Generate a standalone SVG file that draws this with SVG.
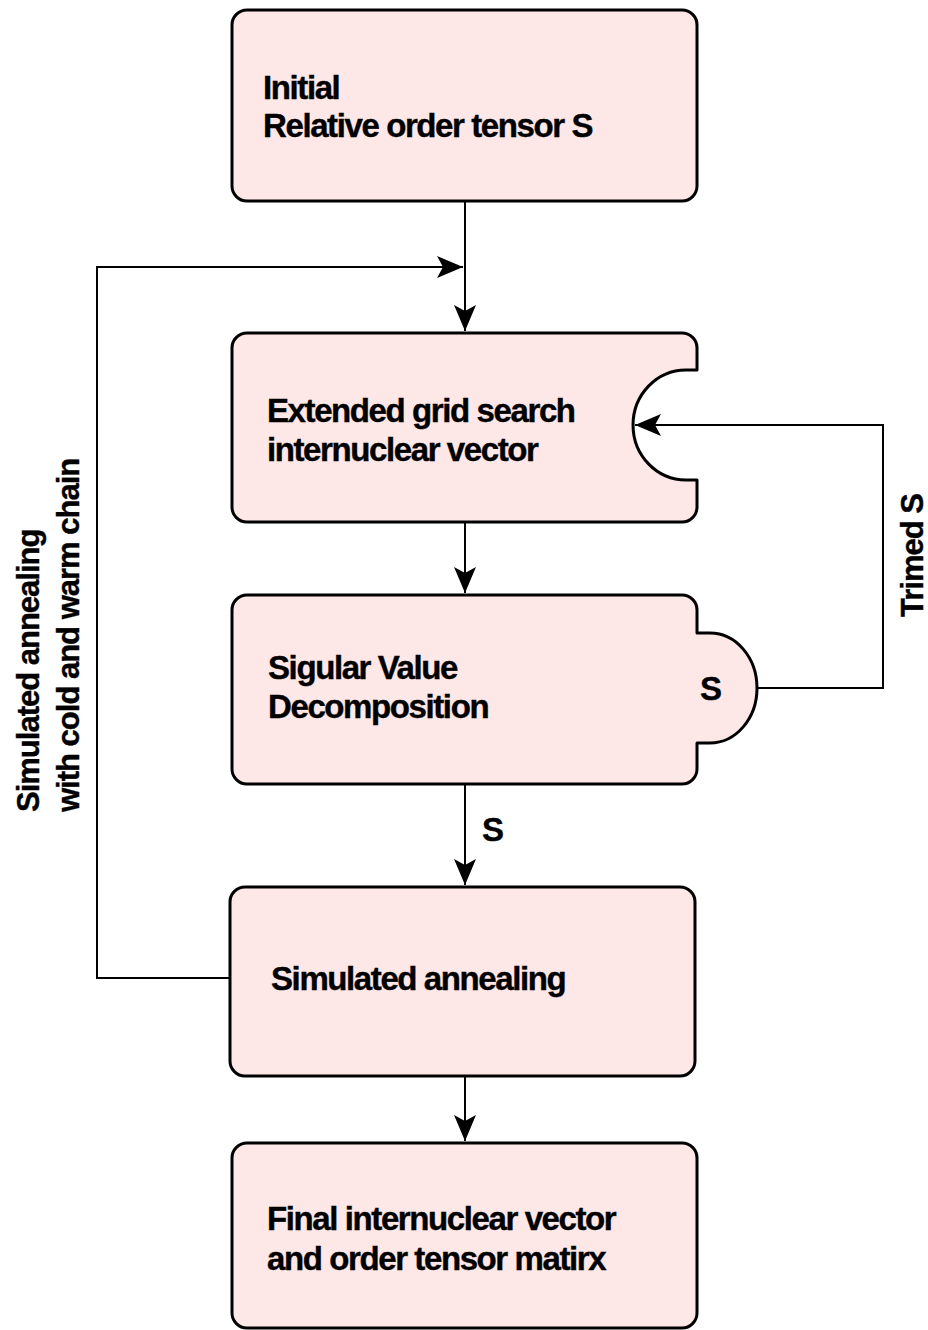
<svg xmlns="http://www.w3.org/2000/svg" width="928" height="1330" viewBox="0 0 928 1330">
  <style>
    .node { fill: #fee7e7; stroke: #000; stroke-width: 3; stroke-linejoin: round; }
    .edge { fill: none; stroke: #000; stroke-width: 2; }
    .label { font-family: "Liberation Sans", Arial, sans-serif; font-weight: bold; font-size: 33px; letter-spacing: -1.4px; fill: #000; stroke: #000; stroke-width: 0.4px; }
    .side { font-size: 31px; letter-spacing: -1px; }
  </style>
  <defs>
    <marker id="arrow" markerUnits="userSpaceOnUse" markerWidth="28" markerHeight="22" refX="26" refY="11" orient="auto">
      <path d="M0,0 L26,11 L0,22 L6,11 Z" fill="#000"/>
    </marker>
  </defs>

  <!-- connectors -->
  <g id="connectors">
    <path class="edge" d="M465,201 V331" marker-end="url(#arrow)"/>
    <path class="edge" d="M230,978 H97 V267 H463" marker-end="url(#arrow)"/>
    <path class="edge" d="M465,522 V593" marker-end="url(#arrow)"/>
    <path class="edge" d="M465,784 V885" marker-end="url(#arrow)"/>
    <path class="edge" d="M465,1076 V1141" marker-end="url(#arrow)"/>
    <path class="edge" d="M757,688 H883 V425 H635" marker-end="url(#arrow)"/>
    <text class="label" x="482" y="841">S</text>
    <text class="label side" transform="rotate(-90 923 617)" x="923" y="617">Trimed S</text>
    <text class="label side" transform="rotate(-90 39 812)" x="39" y="812">Simulated annealing</text>
    <text class="label side" transform="rotate(-90 79 812)" x="79" y="812">with cold and warm chain</text>
  </g>

  <!-- initial tensor -->
  <g id="node-initial">
    <rect class="node" x="232" y="10" width="465" height="191" rx="15"/>
    <text class="label" x="263" y="99">Initial</text>
    <text class="label" x="263" y="137">Relative order tensor S</text>
  </g>

  <!-- grid search with input notch -->
  <g id="node-grid-search">
    <path class="node" d="M247,333 H682 A15,15 0 0 1 697,348 V370 H686 A53,55 0 0 0 686,480 H697 V507 A15,15 0 0 1 682,522 H247 A15,15 0 0 1 232,507 V348 A15,15 0 0 1 247,333 Z"/>
    <text class="label" x="267" y="422">Extended grid search</text>
    <text class="label" x="267" y="461">internuclear vector</text>
  </g>

  <!-- SVD with output bump -->
  <g id="node-svd">
    <path class="node" d="M247,595 H682 A15,15 0 0 1 697,610 V633 H710 A47,55 0 0 1 710,743 H697 V769 A15,15 0 0 1 682,784 H247 A15,15 0 0 1 232,769 V610 A15,15 0 0 1 247,595 Z"/>
    <text class="label" x="268" y="679">Sigular Value</text>
    <text class="label" x="268" y="718">Decomposition</text>
    <text class="label" x="700" y="700">S</text>
  </g>

  <!-- simulated annealing -->
  <g id="node-annealing">
    <rect class="node" x="230" y="887" width="465" height="189" rx="15"/>
    <text class="label" x="271" y="990">Simulated annealing</text>
  </g>

  <!-- final result -->
  <g id="node-final">
    <rect class="node" x="232" y="1143" width="465" height="185" rx="15"/>
    <text class="label" x="267" y="1230">Final internuclear vector</text>
    <text class="label" x="267" y="1270">and order tensor matirx</text>
  </g>
</svg>
